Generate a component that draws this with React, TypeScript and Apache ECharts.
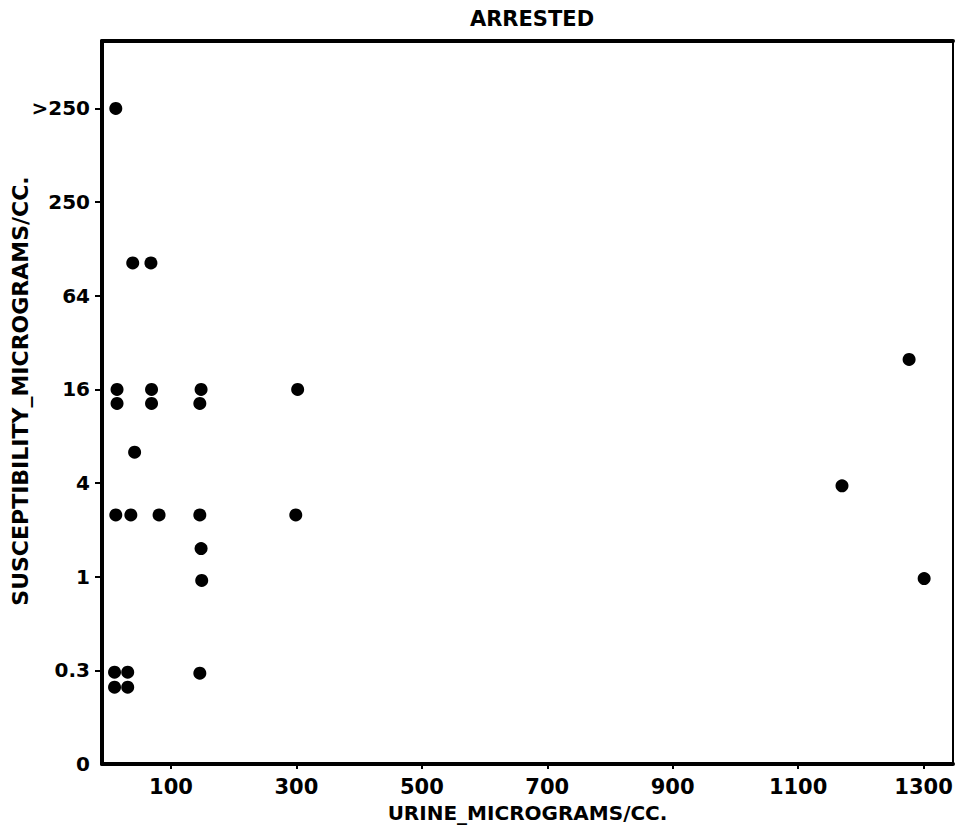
import React, { useEffect, useRef } from "react";
import * as echarts from "echarts";

const chartTitle = "ARRESTED";
const xAxisName = "URINE_MICROGRAMS/CC.";
const yAxisName = "SUSCEPTIBILITY_MICROGRAMS/CC.";

// Ordinal susceptibility scale (evenly spaced levels on the y axis)
const yTickLabels = ["0", "0.3", "1", "4", "16", "64", "250", ">250"];
const yTickPositions = [0, 1, 2, 3, 4, 5, 6, 7];
const xTickValues = [100, 300, 500, 700, 900, 1100, 1300];

// Urine concentration (micrograms/cc) for each patient
const urineValues = [
  12, 39, 68, 14, 69, 148, 302, 14, 69, 146, 42, 12, 36, 81, 146, 299, 148,
  149, 10, 31, 10, 31, 146, 1277, 1170, 1301,
];
// Susceptibility read as position on the ordinal scale above
const susceptibilityLevels = [
  7.0, 5.35, 5.35, 4.0, 4.0, 4.0, 4.0, 3.85, 3.85, 3.85, 3.33, 2.66, 2.66,
  2.66, 2.66, 2.66, 2.3, 1.96, 0.98, 0.98, 0.82, 0.82, 0.97, 4.32, 2.97, 1.98,
];

const FONT = "'DejaVu Sans', 'Liberation Sans', sans-serif";

export default function App() {
  const ref = useRef<HTMLDivElement>(null);

  useEffect(() => {
    if (!ref.current) return;
    const chart = echarts.init(ref.current, undefined, { renderer: "svg" });
    const points = urineValues.map((x, i) => [x, susceptibilityLevels[i]]);

    chart.setOption({
      animation: false,
      backgroundColor: "#ffffff",
      title: {
        text: chartTitle,
        left: 527,
        top: 3,
        textAlign: "center",
        textStyle: {
          fontFamily: FONT,
          fontSize: 21,
          fontWeight: "bold",
          color: "#000",
        },
      },
      grid: { left: 102, right: 3, top: 41, bottom: 65, containLabel: false },
      xAxis: [
        {
          type: "value",
          position: "bottom",
          min: -10,
          max: 1347,
          name: xAxisName,
          nameLocation: "middle",
          nameGap: 39,
          nameTextStyle: {
            fontFamily: FONT,
            fontSize: 20,
            fontWeight: "bold",
            color: "#000",
          },
          axisLine: { onZero: false, lineStyle: { color: "#000", width: 4 } },
          axisTick: {
            show: true,
            customValues: xTickValues,
            length: 5,
            lineStyle: { color: "#000", width: 2 },
          },
          axisLabel: {
            customValues: xTickValues,
            formatter: (v: number) => String(v),
            margin: 12,
            fontFamily: FONT,
            fontSize: 21,
            fontWeight: "bold",
            color: "#000",
          },
          splitLine: { show: false },
        },
        {
          type: "value",
          position: "top",
          min: -10,
          max: 1347,
          axisLine: { onZero: false, lineStyle: { color: "#000", width: 4 } },
          axisTick: { show: false },
          axisLabel: { show: false },
          splitLine: { show: false },
        },
      ],
      yAxis: [
        {
          type: "value",
          position: "left",
          min: 0,
          max: 7.72,
          axisLine: { onZero: false, lineStyle: { color: "#000", width: 4 } },
          axisTick: {
            show: true,
            customValues: yTickPositions.slice(1),
            length: 7,
            lineStyle: { color: "#000", width: 2 },
          },
          axisLabel: {
            customValues: yTickPositions,
            formatter: (v: number) => yTickLabels[Math.round(v)] ?? "",
            margin: 12,
            fontFamily: FONT,
            fontSize: 20,
            fontWeight: "bold",
            color: "#000",
          },
          splitLine: { show: false },
        },
        {
          type: "value",
          position: "right",
          min: 0,
          max: 7.72,
          axisLine: { onZero: false, lineStyle: { color: "#000", width: 2 } },
          axisTick: { show: false },
          axisLabel: { show: false },
          splitLine: { show: false },
        },
      ],
      graphic: [
        {
          type: "text",
          x: 20,
          y: 391,
          rotation: Math.PI / 2,
          style: {
            text: yAxisName,
            font: `bold 22px ${FONT}`,
            fill: "#000",
            align: "center",
            verticalAlign: "middle",
          },
        },
      ],
      series: [
        {
          type: "scatter",
          xAxisIndex: 0,
          yAxisIndex: 0,
          data: points,
          symbol: "circle",
          symbolSize: 13,
          itemStyle: { color: "#000", opacity: 1 },
        },
      ],
    });

    return () => chart.dispose();
  }, []);

  return (
    <div
      ref={ref}
      style={{ position: "fixed", left: 0, top: 0, width: 956, height: 829 }}
    />
  );
}
